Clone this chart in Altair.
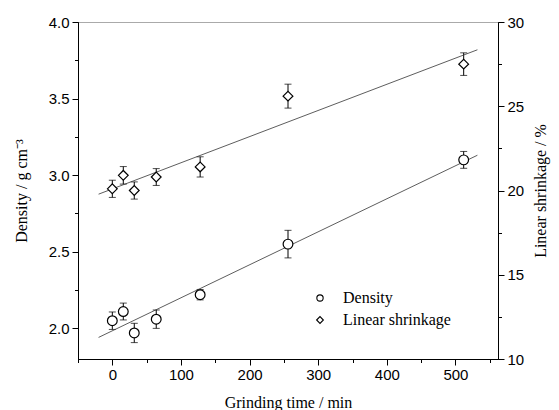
import altair as alt
import pandas as pd

# ---- data ----
times = [0, 16, 32, 64, 128, 256, 512]
density = [2.05, 2.11, 1.97, 2.06, 2.22, 2.55, 3.10]
density_err = [0.057, 0.055, 0.063, 0.06, 0.034, 0.09, 0.055]
shrink = [20.1, 20.9, 20.0, 20.8, 21.4, 25.6, 27.5]
shrink_err = [0.51, 0.52, 0.51, 0.5, 0.6, 0.71, 0.67]

series_names = ["Density", "Linear shrinkage"]
series_shapes = ["circle", "diamond"]
x_major = [0, 100, 200, 300, 400, 500]
x_minor = [-50, 50, 150, 250, 350, 450, 550]
yl_major = [2.0, 2.5, 3.0, 3.5, 4.0]
yl_minor = [2.25, 2.75, 3.25, 3.75]
yr_major = [10, 15, 20, 25, 30]
yr_minor = [12.5, 17.5, 22.5, 27.5]

X_DOM = [-50, 562]
YL_DOM = [1.8, 4.0]
YR_DOM = [10, 30]

df_d = pd.DataFrame({
    "t": times, "v": density,
    "lo": [v - e for v, e in zip(density, density_err)],
    "hi": [v + e for v, e in zip(density, density_err)],
    "series": series_names[0],
})
df_s = pd.DataFrame({
    "t": times, "v": shrink,
    "lo": [v - e for v, e in zip(shrink, shrink_err)],
    "hi": [v + e for v, e in zip(shrink, shrink_err)],
    "series": series_names[1],
})

SANS = "Liberation Sans"
SERIF = "Liberation Serif"

xs = alt.Scale(domain=X_DOM, nice=False, zero=False)
yls = alt.Scale(domain=YL_DOM, nice=False, zero=False)
yrs = alt.Scale(domain=YR_DOM, nice=False, zero=False)
shape_scale = alt.Scale(domain=series_names, range=series_shapes)

x_main_axis = alt.Axis(values=x_major, title="Grinding time / min", tickSize=6,
                       labelFont=SANS, labelFontSize=15, labelPadding=2,
                       titleFont=SERIF, titleFontSize=16, titleFontWeight="normal",
                       titlePadding=12, orient="bottom")
yl_axis = alt.Axis(values=yl_major, format=".1f", title="Density / g cm⁻³", tickSize=6,
                   labelFont=SANS, labelFontSize=15, labelPadding=3,
                   titleFont=SERIF, titleFontSize=16, titleFontWeight="normal",
                   titlePadding=19, orient="left")
yr_axis = alt.Axis(values=yr_major, title="Linear shrinkage / %", tickSize=6,
                   labelFont=SANS, labelFontSize=15, labelPadding=3,
                   titleFont=SERIF, titleFontSize=16, titleFontWeight="normal",
                   titlePadding=25, orient="right", titleAngle=270)


def layers(df, ys, yaxis, line_extent):
    base = alt.Chart(df)
    err = base.mark_errorbar(ticks={"size": 7, "color": "black"}, color="black",
                             thickness=1).encode(
        x=alt.X("t:Q", scale=xs, axis=None),
        y=alt.Y("lo:Q", scale=ys, axis=None, title=None),
        y2="hi:Q",
    )
    line = base.transform_regression("t", "v", extent=line_extent).mark_line(
        color="#333", strokeWidth=0.8
    ).encode(
        x=alt.X("t:Q", scale=xs, axis=None),
        y=alt.Y("v:Q", scale=ys, axis=None),
    )
    pts = base.mark_point(filled=False, strokeWidth=1.2, size=95, color="black",
                          fill="white", fillOpacity=1, opacity=1).encode(
        x=alt.X("t:Q", scale=xs, axis=None),
        y=alt.Y("v:Q", scale=ys, axis=yaxis),
        shape=alt.Shape("series:N", scale=shape_scale, legend=None),
    )
    return err, line, pts


d_err, d_line, d_pts = layers(df_d, yls, yl_axis, [-20, 532])
s_err, s_line, s_pts = layers(df_s, yrs, yr_axis, [-20, 532])

# in-plot legend (bottom right), drawn as symbol + label per series
legend_layers = []
for i, (name, shp) in enumerate(zip(series_names, series_shapes)):
    row = pd.DataFrame({"series": [name]})
    ypix = 276 + 22 * i
    sym = alt.Chart(row).mark_point(shape=shp, filled=False, color="black",
                                    strokeWidth=1.1, size=40 if shp == "circle" else 45,
                                    opacity=1).encode(
        x=alt.value(242), y=alt.value(ypix))
    txt = alt.Chart(row).mark_text(align="left", baseline="middle", font=SERIF,
                                   fontSize=16, color="black").encode(
        x=alt.value(265), y=alt.value(ypix), text="series:N")
    legend_layers += [sym, txt]

# main x axis attached to a hidden layer
x_layer = alt.Chart(df_d).mark_point(opacity=0).encode(
    x=alt.X("t:Q", scale=xs, axis=x_main_axis),
    y=alt.Y("v:Q", scale=yls, axis=None),
)
minor_left = alt.Chart(df_d).mark_point(opacity=0).encode(
    x=alt.X("t:Q", scale=xs, axis=alt.Axis(values=x_minor, labels=False, tickSize=3.5,
                                           title=None, orient="bottom")),
    y=alt.Y("v:Q", scale=yls, axis=alt.Axis(values=yl_minor, labels=False, tickSize=3.5,
                                            title=None, orient="left")),
)
minor_right = alt.Chart(df_s).mark_point(opacity=0).encode(
    x=alt.X("t:Q", scale=xs, axis=None),
    y=alt.Y("v:Q", scale=yrs, axis=alt.Axis(values=yr_minor, labels=False, tickSize=3.5,
                                            title=None, orient="right")),
)

chart = alt.layer(
    x_layer, minor_left, d_err, d_line, d_pts, s_err, s_line, s_pts, minor_right,
    *legend_layers
).resolve_scale(y="independent").resolve_axis(x="independent", y="independent").properties(
    width=420, height=337,
    autosize=alt.AutoSizeParams(type="none"),
    padding={"left": 70, "top": 14, "right": 53, "bottom": 60},
).configure_axis(
    grid=False, domainColor="black", tickColor="black", labelColor="black",
    titleColor="black", domainWidth=1, tickWidth=1,
).configure_view(stroke="#aaaaaa", strokeWidth=1)

chart.save("out.html", embed_options={"renderer": "svg", "actions": False})
